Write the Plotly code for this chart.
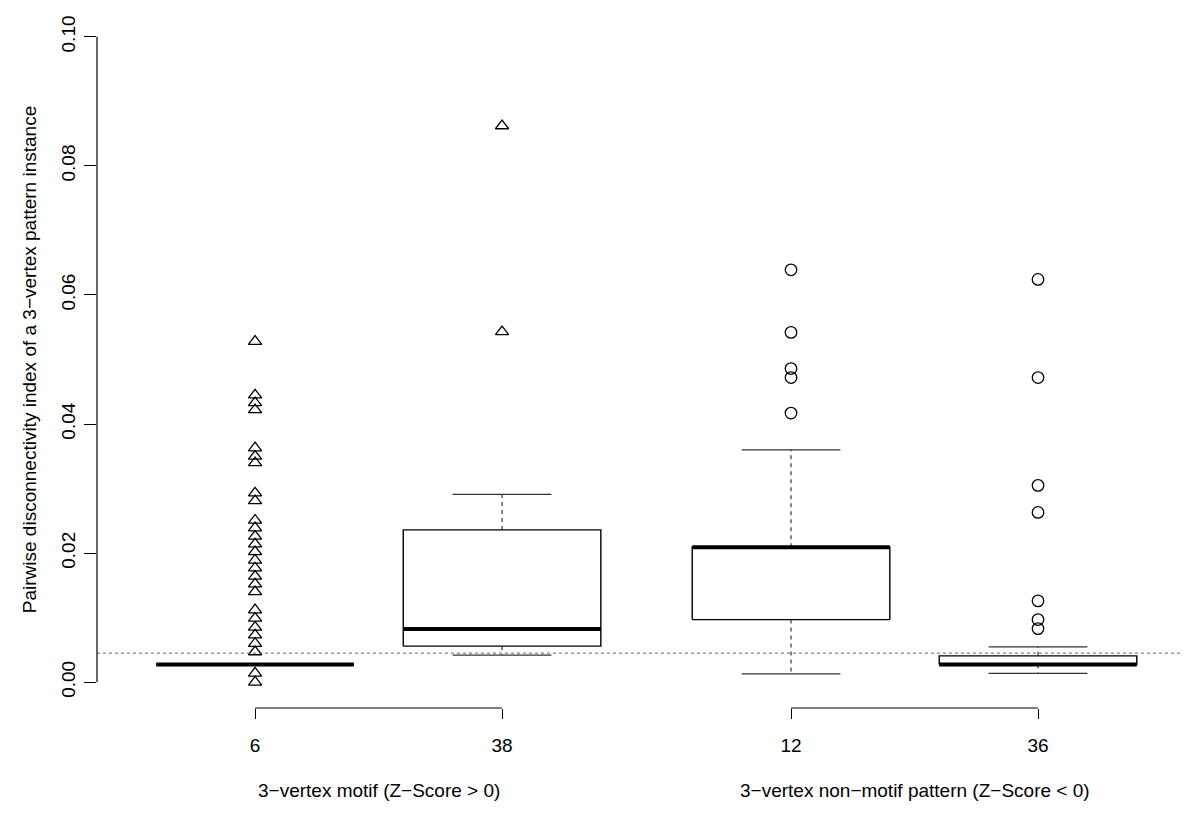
import plotly.graph_objects as go

# box positions on the x axis and their tick labels
positions = [1, 2, 3.17, 4.17]
tick_labels = ["6", "38", "12", "36"]
group_labels = ["3\u2212vertex motif (Z\u2212Score > 0)",
                "3\u2212vertex non\u2212motif pattern (Z\u2212Score < 0)"]

# box statistics
lower_whisker = [0.00274, 0.0042, 0.0013, 0.00135]
q1 = [0.00274, 0.00558, 0.0097, 0.00274]
median = [0.00274, 0.00826, 0.0209, 0.00274]
q3 = [0.00274, 0.0236, 0.0209, 0.00408]
upper_whisker = [0.00274, 0.0291, 0.0360, 0.00547]

outliers = [
    [0.0528, 0.0445, 0.0433, 0.0422, 0.0363, 0.0350, 0.0340, 0.0293, 0.0281,
     0.0251, 0.0239, 0.0226, 0.0214, 0.0202, 0.0189, 0.0177, 0.0164, 0.0152,
     0.0140, 0.0112, 0.0099, 0.0085, 0.0073, 0.0060, 0.0047, 0.0014, 0.0000],
    [0.0862, 0.0543],
    [0.0639, 0.0542, 0.0486, 0.0472, 0.0417],
    [0.0624, 0.0472, 0.0305, 0.0263, 0.0126, 0.0097, 0.0083],
]
outlier_symbols = ["triangle-up-open", "triangle-up-open", "circle-open", "circle-open"]

threshold = 0.0045

y_ticks = [0.00, 0.02, 0.04, 0.06, 0.08, 0.10]

FONT = "Liberation Sans, Arial, sans-serif"
box_w = 0.8
cap_w = 0.4

fig = go.Figure()

for i, x in enumerate(positions):
    l, r = x - box_w / 2, x + box_w / 2
    cl, cr = x - cap_w / 2, x + cap_w / 2
    # dashed whiskers
    fig.add_trace(go.Scatter(x=[x, x, None, x, x],
                             y=[q3[i], upper_whisker[i], None, q1[i], lower_whisker[i]],
                             mode="lines", line=dict(color="#333333", width=1.2, dash="4px,4px"),
                             hoverinfo="skip", showlegend=False))
    # staples
    fig.add_trace(go.Scatter(x=[cl, cr, None, cl, cr],
                             y=[upper_whisker[i], upper_whisker[i], None,
                                lower_whisker[i], lower_whisker[i]],
                             mode="lines", line=dict(color="#333333", width=1.3),
                             hoverinfo="skip", showlegend=False))
    # box
    fig.add_trace(go.Scatter(x=[l, r, r, l, l],
                             y=[q1[i], q1[i], q3[i], q3[i], q1[i]],
                             mode="lines", fill="toself", fillcolor="white",
                             line=dict(color="black", width=1.4),
                             hoverinfo="skip", showlegend=False))
    # median
    fig.add_trace(go.Scatter(x=[l, r], y=[median[i], median[i]],
                             mode="lines", line=dict(color="black", width=4),
                             showlegend=False))
    # outliers
    fig.add_trace(go.Scatter(x=[x] * len(outliers[i]), y=outliers[i], mode="markers",
                             marker=dict(symbol=outlier_symbols[i], size=11.5,
                                         color="black", line=dict(width=1.3, color="black")),
                             showlegend=False))

# dotted reference line
fig.add_shape(type="line", xref="paper", x0=0, x1=1, yref="y", y0=threshold, y1=threshold,
              line=dict(color="#666666", width=1, dash="dot"))

# y axis line from 0 to 0.1
fig.add_shape(type="line", xref="paper", x0=0, x1=0, yref="y", y0=y_ticks[0], y1=y_ticks[-1],
              line=dict(color="black", width=1.2))

# x axis brackets per group
groups = [(positions[0], positions[1]), (positions[2], positions[3])]
for a, b in groups:
    fig.add_shape(type="line", xref="x", x0=a, x1=b, yref="paper", y0=0, y1=0,
                  line=dict(color="black", width=1.2))

# group labels
for j, (a, b) in enumerate(groups):
    fig.add_annotation(x=(a + b) / 2, xref="x", y=-0.119, yref="paper",
                       text=group_labels[j], showarrow=False,
                       xanchor="center", yanchor="middle",
                       font=dict(family=FONT, size=19, color="black"))

# y axis title
fig.add_annotation(x=-0.062, xref="paper", y=0.05, yref="y",
                   text="Pairwise disconnectivity index of a 3\u2212vertex pattern instance",
                   textangle=-90, showarrow=False, xanchor="center", yanchor="middle",
                   font=dict(family=FONT, size=19, color="black"))

fig.update_layout(
    width=1200, height=822,
    margin=dict(l=89, r=26, t=3, b=122),
    plot_bgcolor="white", paper_bgcolor="white",
    font=dict(family=FONT, size=19, color="black"),
    xaxis=dict(range=[0.36, 4.753], showgrid=False, zeroline=False, showline=False,
               tickmode="array", tickvals=positions, ticktext=tick_labels,
               ticks="outside", ticklen=10, tickwidth=1.2, tickcolor="black",
               ticklabelstandoff=10),
    yaxis=dict(range=[-0.004, 0.104], showgrid=False, zeroline=False, showline=False,
               tickmode="array", tickvals=y_ticks,
               ticktext=["%.2f" % v for v in y_ticks],
               ticks="outside", ticklen=12, tickwidth=1.2, tickcolor="black",
               tickangle=-90, ticklabelstandoff=1),
)

fig.write_html("out.html")
